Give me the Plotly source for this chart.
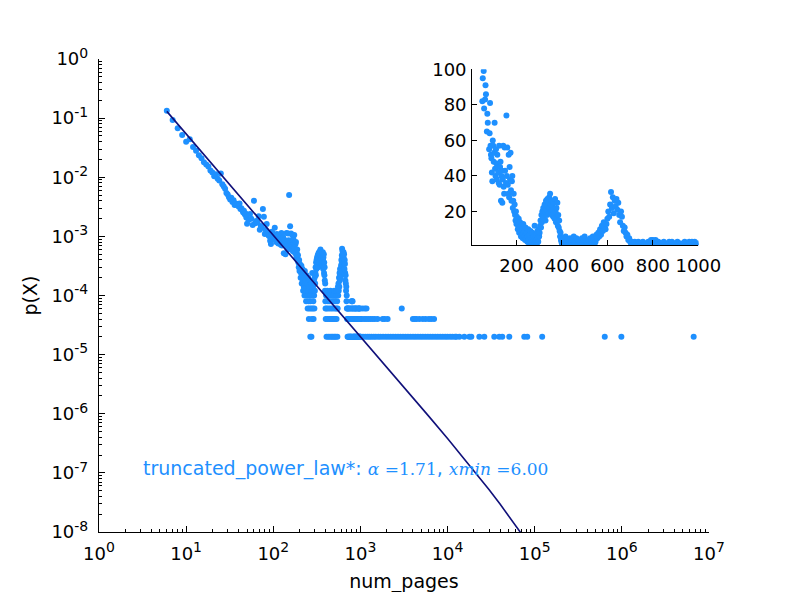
import plotly.graph_objects as go

# counts of books per page count; p(X) = count / total_books
total_books = 50000

# one entry per page count, 6..49
head_pages = list(range(6, 50))
head_counts = [6650, 4650, 3360, 2590, 2000, 2190, 1620, 1400, 1180, 1050,
               900, 820, 760, 650, 600, 520, 560, 470, 440, 580,
               380, 350, 320, 270, 255, 230, 210, 225, 190, 205,
               170, 180, 170, 175, 160, 180, 145, 150, 140, 128,
               135, 118, 122, 104]

# every second page count, 50..398
mid_pages = list(range(50, 400, 2))
mid_counts = [82, 95, 120, 99, 78, 200, 83, 91, 86, 110,
              65, 75, 70, 145, 107, 55, 64, 81, 57, 52,
              50, 42, 37, 60, 57, 48, 53, 70, 44, 40,
              55, 47, 38, 52, 45, 42, 36, 57, 35, 45,
              48, 26, 40, 43, 25, 38, 57, 34, 30, 56,
              43, 250, 36, 74, 40, 56, 35, 30, 52, 28,
              45, 38, 53, 32, 26, 37, 40, 22, 26, 30,
              20, 24, 18, 15, 20, 13, 17, 14, 10, 12,
              16, 8, 11, 14, 9, 6, 12, 7, 10, 5,
              13, 8, 6, 9, 4, 11, 7, 5, 8, 3,
              6, 10, 4, 2, 7, 3, 9, 5, 1, 4,
              8, 3, 1, 6, 2, 12, 5, 3, 7, 4,
              2, 9, 5, 3, 10, 6, 8, 12, 15, 11,
              18, 14, 20, 16, 22, 17, 19, 24, 20, 15,
              26, 21, 18, 27, 23, 25, 19, 28, 22, 30,
              24, 20, 26, 18, 23, 21, 17, 25, 19, 16,
              27, 20, 14, 22, 16, 25, 12, 18, 11, 15,
              9, 6, 8, 4, 3]

# every fourth page count, 400..1000
high_pages = list(range(400, 1001, 4))
high_counts = [2, 5, 1, 3, 6, 2, 4, 1, 3, 5,
               2, 4, 1, 6, 3, 2, 5, 1, 4, 2,
               3, 1, 5, 2, 4, 6, 1, 3, 2, 4,
               1, 5, 3, 2, 6, 4, 1, 3, 7, 5,
               8, 6, 10, 7, 12, 9, 14, 11, 10, 13,
               16, 20, 17, 24, 31, 22, 28, 19, 26, 23,
               27, 21, 25, 18, 14, 20, 17, 12, 9, 11,
               8, 6, 7, 4, 5, 3, 2, 3, 1, 2,
               3, 1, 2, 1, 3, 2, 1, 2, 1, 3,
               1, 2, 1, 2, 1, 3, 1, 2, 4, 1,
               4, 3, 2, 4, 1, 2, 3, 1, 2, 1,
               2, 1, 3, 1, 2, 1, 1, 2, 3, 1,
               2, 3, 1, 2, 1, 2, 1, 3, 1, 2,
               1, 2, 1, 1, 2, 3, 1, 2, 1, 1,
               3, 2, 1, 3, 2, 1, 3, 1, 2, 1,
               2]

# long tail beyond 1000 pages
tail_pages = [1050, 1120, 1175, 2980,
              1030, 1100, 1160, 1230, 1300, 1380, 1460, 1570, 1800, 1900,
              2050, 4000, 4200, 4400, 4750, 5200, 5600, 6100, 6500, 7000,
              1010, 1070, 1140, 1210, 1270, 1340, 1420, 1500, 1600, 1700,
              1820, 1950, 2080, 2220, 2370, 2530, 2700, 2880, 3080, 3290,
              3510, 3750, 4010, 4280, 4570, 4880, 5210, 5560, 5940, 6340,
              6770, 7230, 7720, 8240, 8800, 9400, 10000, 10700, 11400, 12200,
              12600, 13650, 15570, 17780, 18740, 23140, 26400, 34360, 39200,
              42430, 51060, 75850, 82050, 121800, 636500, 986600, 6670000]
tail_counts = [3, 3, 3, 3] + [2] * 20 + [1] * 57

# fitted truncated power law
fit_pages = [6, 10, 20, 50, 100, 300, 1000, 3000, 6000, 10000, 15000, 20000,
             30000, 40000, 50000, 60000, 70000, 80000]
fit_p = [0.13, 0.0542, 0.0166, 3.46e-3, 1.06e-3, 1.62e-4, 2.04e-5, 3.1e-6,
         9.3e-7, 3.8e-7, 1.84e-7, 1.09e-7, 5.2e-8, 2.97e-8, 1.9e-8, 1.32e-8,
         9.5e-9, 7.2e-9]

pages = head_pages + mid_pages + high_pages + tail_pages
counts = head_counts + mid_counts + high_counts + tail_counts
p_x = [c / total_books for c in counts]

blue = "#1E90FF"
font = dict(family="DejaVu Sans", size=19, color="black")
tick_font = dict(family="DejaVu Sans", size=18, color="black")

major_x = [10 ** k for k in range(0, 8)]
major_y = [10 ** k for k in range(-8, 1)]
minor_x = [m * 10 ** k for k in range(0, 7) for m in range(2, 10)]
minor_y = [m * 10.0 ** k for k in range(-8, 0) for m in range(2, 10)]


def power_label(k):
    return f"10<sup><span style='font-size:14px'>{k}</span></sup>"


fig = go.Figure()
fig.add_trace(go.Scatter(x=pages, y=p_x, mode="markers",
                         marker=dict(color=blue, size=6, line=dict(width=0)),
                         xaxis="x", yaxis="y", showlegend=False))
fig.add_trace(go.Scatter(x=fit_pages, y=fit_p, mode="lines",
                         line=dict(color="#10107a", width=1.6),
                         xaxis="x", yaxis="y", showlegend=False))
fig.add_trace(go.Scatter(x=pages, y=counts, mode="markers",
                         marker=dict(color=blue, size=6, line=dict(width=0)),
                         xaxis="x2", yaxis="y2", showlegend=False))

axis_common = dict(showgrid=False, zeroline=False, showline=True, linecolor="black",
                   linewidth=1.3, ticks="inside", tickcolor="black", tickwidth=1,
                   mirror=False, tickfont=tick_font, automargin=False)

# the page body adds 8px, so margins are trimmed by that much
fig.update_layout(
    width=789, height=592,
    margin=dict(l=91, r=88, t=51, b=68),
    paper_bgcolor="white", plot_bgcolor="white",
    font=font,
    xaxis=dict(type="log", range=[0, 7], tickmode="array", tickvals=major_x,
               ticktext=[power_label(k) for k in range(0, 8)], ticklen=6,
               minor=dict(tickvals=minor_x, ticks="inside", ticklen=3,
                          tickcolor="black", showgrid=False),
               title=dict(text="num_pages", font=font, standoff=11),
               ticklabelstandoff=5, **axis_common),
    yaxis=dict(type="log", range=[-8, 0], tickmode="array", tickvals=major_y,
               ticktext=[power_label(k) for k in range(-8, 1)], ticklen=6,
               minor=dict(tickvals=minor_y, ticks="inside", ticklen=3,
                          tickcolor="black", showgrid=False),
               title=dict(text="p(X)", font=font, standoff=8),
               ticklabelstandoff=6, **axis_common),
    xaxis2=dict(domain=[0.612, 0.9825], anchor="y2", range=[6, 1000],
                tickmode="array", tickvals=[200, 400, 600, 800, 1000], ticklen=5,
                ticklabelstandoff=4, **axis_common),
    yaxis2=dict(domain=[0.6061, 0.9782], anchor="x2", range=[1, 100],
                tickmode="array", tickvals=[20, 40, 60, 80, 100], ticklen=5,
                ticklabelstandoff=1, **axis_common),
    annotations=[dict(
        x=0.48, y=-6.92, xref="x", yref="y", xanchor="left", yanchor="middle",
        showarrow=False, font=dict(family="DejaVu Sans", size=19, color=blue),
        text=("truncated_power_law*: "
              "<span style='font-family:DejaVu Serif;font-size:17px'><i>α</i> =1.71</span>, "
              "<span style='font-family:DejaVu Serif;font-size:17px'><i>xmin</i> =6.00</span>"))],
)

fig.write_html("out.html")
